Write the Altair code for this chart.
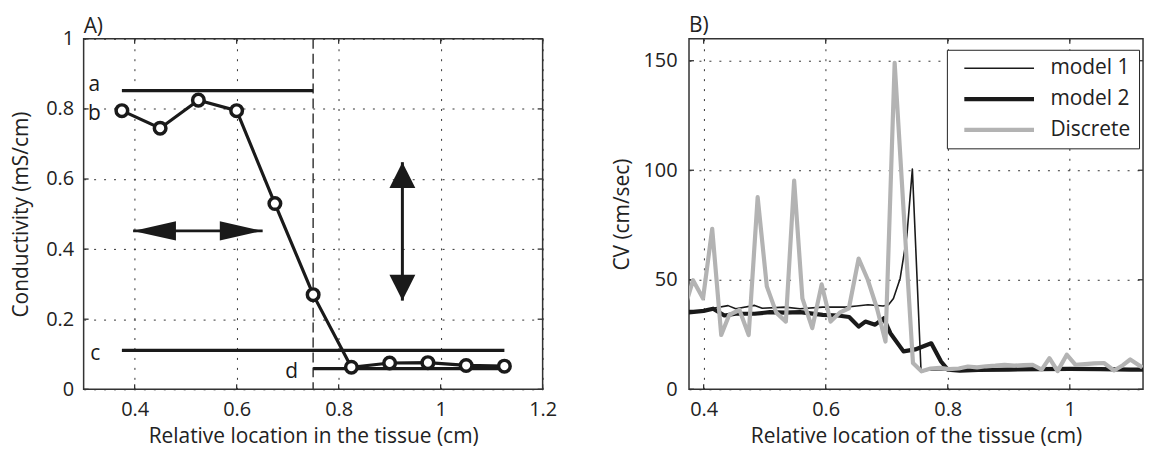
import altair as alt
import pandas as pd

FONT = "Open Sans"
INK = "#1a1a1a"
GRID = "#333333"
TICK_LEN = 5

# ---------------- Panel A data ----------------
a_loc = [0.375, 0.45, 0.525, 0.6, 0.675, 0.75, 0.825, 0.9, 0.975, 1.05, 1.125]
a_cond = [0.795, 0.745, 0.825, 0.795, 0.53, 0.27, 0.063, 0.075, 0.076, 0.068, 0.066]

seg_name = ["a", "c", "d"]
seg_x1 = [0.375, 0.375, 0.75]
seg_x2 = [0.75, 1.125, 1.125]
seg_y = [0.852, 0.111, 0.059]

lab_text = ["a", "b", "c", "d"]
lab_x = [0.321, 0.321, 0.323, 0.708]
lab_y = [0.852, 0.768, 0.085, 0.031]

dash_x = [0.75]

harrow_x1 = [0.397]
harrow_x2 = [0.651]
harrow_y = [0.452]
varrow_x = [0.925]
varrow_y1 = [0.253]
varrow_y2 = [0.648]

a_xticks = [0.4, 0.6, 0.8, 1.0, 1.2]
a_yticks = [0, 0.2, 0.4, 0.6, 0.8, 1.0]

# ---------------- Panel B data ----------------
series_names = ["model 1", "model 2", "Discrete"]
series_colors = [INK, INK, "#b3b3b3"]
series_widths = [1.6, 4.2, 4.2]

m1_x = [0.374, 0.40, 0.4155, 0.44, 0.4526, 0.4836, 0.496, 0.5331, 0.5579, 0.595,
        0.6322, 0.6508, 0.6693, 0.6941, 0.703, 0.711, 0.722, 0.733, 0.742, 0.7563,
        0.7684, 0.80, 0.85, 0.9, 0.95, 1.0, 1.05, 1.1, 1.12]
m1_y = [36, 36, 37, 38.2, 36.8, 38.3, 37, 37.5, 36.8, 37.5,
        37.5, 38, 38.6, 38, 38.6, 41.5, 50.6, 70, 100.5, 7.9,
        8.8, 9, 9.2, 9.3, 9.4, 9.5, 9.3, 9.4, 9.4]

m2_x = [0.374, 0.40, 0.4155, 0.434, 0.4526, 0.4836, 0.5084, 0.5331, 0.5579, 0.595,
        0.6198, 0.6384, 0.654, 0.665, 0.681, 0.695, 0.706, 0.7275, 0.7466, 0.773,
        0.789, 0.80, 0.82, 0.85, 0.9, 0.95, 1.0, 1.05, 1.1, 1.12]
m2_y = [35, 35.8, 36.8, 33.7, 34.5, 34.5, 35.2, 35, 35.2, 34,
        33.7, 33, 28.6, 30.9, 29.5, 32.4, 25.6, 17.3, 18.2, 21,
        12.7, 9, 8.5, 8.8, 9, 9.2, 9.3, 9.2, 9, 9]

d_x = [0.370, 0.3826, 0.399, 0.414, 0.4288, 0.442, 0.4587, 0.4738, 0.4885, 0.5035,
       0.519, 0.5347, 0.5483, 0.5618, 0.578, 0.5934, 0.608, 0.623, 0.638, 0.654,
       0.669, 0.684, 0.698, 0.713, 0.728, 0.743, 0.757, 0.772, 0.787, 0.802,
       0.818, 0.833, 0.848, 0.863, 0.878, 0.893, 0.909, 0.924, 0.939, 0.954,
       0.9666, 0.98, 0.995, 1.0094, 1.025, 1.04, 1.056, 1.0725, 1.087, 1.099, 1.119]
d_y = [38, 49.8, 41.5, 73.3, 24.8, 34, 36.2, 24.8, 87.7, 47,
       35, 30.9, 95.3, 41.5, 27.9, 47.9, 30.9, 35, 37, 59.7,
       50, 37, 21.8, 149, 80, 12, 8.2, 9.5, 9.8, 9.2,
       9.5, 10.4, 10, 10.5, 10.8, 11.2, 10.8, 11, 11.2, 9,
       14.2, 8.3, 15.8, 11.2, 11.5, 11.8, 12, 8.6, 11, 13.6, 10]

b_xticks = [0.4, 0.6, 0.8, 1.0]
b_yticks = [0, 50, 100, 150]

A_W, A_H = 461, 352
B_W, B_H = 456, 352


# ---------------- Panel A ----------------
def xa(field="x"):
    return alt.X(f"{field}:Q",
                 scale=alt.Scale(domain=[0.3, 1.2], nice=False, zero=False),
                 axis=alt.Axis(values=a_xticks, format="~g",
                               title="Relative location in the tissue (cm)",
                               titlePadding=6))


def ya(field="y"):
    return alt.Y(f"{field}:Q",
                 scale=alt.Scale(domain=[0, 1], nice=False, zero=False),
                 axis=alt.Axis(values=a_yticks, format="~g",
                               title="Conductivity (mS/cm)", titlePadding=14))


def xb(field="x"):
    return alt.X(f"{field}:Q",
                 scale=alt.Scale(domain=[0.376, 1.12], nice=False, zero=False),
                 axis=alt.Axis(values=b_xticks, format="~g",
                               title="Relative location of the tissue (cm)",
                               titlePadding=6))


def yb(field="y"):
    return alt.Y(f"{field}:Q",
                 scale=alt.Scale(domain=[0, 160], nice=False, zero=False),
                 axis=alt.Axis(values=b_yticks, format="d", title="CV (cm/sec)",
                               titlePadding=10, labelPadding=12))


def inner_ticks(xticks, yticks, xenc, yenc, w, h):
    xt = pd.DataFrame({"v": xticks})
    yt = pd.DataFrame({"v": yticks})
    base = dict(color="#333333", strokeWidth=1.3)
    return [
        alt.Chart(xt).mark_rule(**base).encode(x=xenc("v"), y=alt.value(h),
                                               y2=alt.value(h - TICK_LEN)),
        alt.Chart(xt).mark_rule(**base).encode(x=xenc("v"), y=alt.value(0),
                                               y2=alt.value(TICK_LEN)),
        alt.Chart(yt).mark_rule(**base).encode(y=yenc("v"), x=alt.value(0),
                                               x2=alt.value(TICK_LEN)),
        alt.Chart(yt).mark_rule(**base).encode(y=yenc("v"), x=alt.value(w),
                                               x2=alt.value(w - TICK_LEN)),
    ]


pts = pd.DataFrame({"x": a_loc, "y": a_cond})
segs = pd.DataFrame({"name": seg_name, "x": seg_x1, "x2": seg_x2, "y": seg_y})
labs = pd.DataFrame({"t": lab_text, "x": lab_x, "y": lab_y})
dash = pd.DataFrame({"x": dash_x})
harr = pd.DataFrame({"x": harrow_x1, "x2": harrow_x2, "y": harrow_y})
varr = pd.DataFrame({"x": varrow_x, "y": varrow_y1, "y2": varrow_y2})
head_l = pd.DataFrame({"x": harrow_x1, "y": harrow_y})
head_r = pd.DataFrame({"x": harrow_x2, "y": harrow_y})
head_u = pd.DataFrame({"x": varrow_x, "y": varrow_y2})
head_d = pd.DataFrame({"x": varrow_x, "y": varrow_y1})

L_SHAPE = "M0,0L2,-0.45L2,0.45Z"
R_SHAPE = "M0,0L-2,-0.45L-2,0.45Z"
U_SHAPE = "M0,0L-1,2L1,2Z"
D_SHAPE = "M0,0L-1,-2L1,-2Z"

dash_layer = alt.Chart(dash).mark_rule(color="#3a3a3a", strokeWidth=1.5,
                                       strokeDash=[10, 5]).encode(x=xa("x"))
seg_layer = alt.Chart(segs).mark_rule(color=INK, strokeWidth=3.2).encode(
    x=xa("x"), x2="x2:Q", y=ya("y"))
line_layer = alt.Chart(pts).mark_line(color=INK, strokeWidth=3.2).encode(
    x=xa("x"), y=ya("y"))
pt_layer = alt.Chart(pts).mark_point(shape="circle", size=135, fill="white",
                                     fillOpacity=1, stroke=INK, strokeWidth=3.5,
                                     opacity=1).encode(x=xa("x"), y=ya("y"))
lab_layer = alt.Chart(labs).mark_text(font=FONT, fontSize=21, baseline="alphabetic",
                                      align="center", color=INK).encode(
    x=xa("x"), y=ya("y"), text="t:N")
harr_layer = alt.Chart(harr).mark_rule(color=INK, strokeWidth=3).encode(
    x=xa("x"), x2="x2:Q", y=ya("y"))
varr_layer = alt.Chart(varr).mark_rule(color=INK, strokeWidth=3).encode(
    x=xa("x"), y=ya("y"), y2="y2:Q")


def head(df, shape, size):
    return alt.Chart(df).mark_point(shape=shape, size=size, filled=True, color=INK,
                                    opacity=1, strokeWidth=0).encode(x=xa("x"), y=ya("y"))


panelA = alt.layer(
    *inner_ticks(a_xticks, a_yticks, xa, ya, A_W, A_H),
    dash_layer, seg_layer, line_layer, pt_layer, lab_layer,
    harr_layer, varr_layer,
    head(head_l, L_SHAPE, 1849), head(head_r, R_SHAPE, 1849),
    head(head_u, U_SHAPE, 676), head(head_d, D_SHAPE, 676),
).properties(width=A_W, height=A_H,
             title=alt.TitleParams("A)", anchor="start", frame="group", offset=-8))

# ---------------- Panel B ----------------
rows = []
for name, xs, ys in [("model 1", m1_x, m1_y), ("model 2", m2_x, m2_y), ("Discrete", d_x, d_y)]:
    for xv, yv in zip(xs, ys):
        rows.append({"series": name, "x": xv, "y": yv})
bdf = pd.DataFrame(rows)

leg = alt.Legend(title=None, orient="none", legendX=259, legendY=11,
                 strokeColor="#222222", fillColor="white", padding=8, cornerRadius=0,
                 symbolType="stroke", symbolSize=4900, clipHeight=21, rowPadding=9,
                 labelFont=FONT, labelFontSize=21, labelColor="#222222",
                 labelOffset=14, symbolOffset=7, labelExpr="datum.label + '   '")

lines_b = alt.Chart(bdf).mark_line(clip=True, strokeJoin="round").encode(
    x=xb("x"),
    y=yb("y"),
    color=alt.Color("series:N", scale=alt.Scale(domain=series_names, range=series_colors),
                    legend=leg),
    strokeWidth=alt.StrokeWidth("series:N",
                                scale=alt.Scale(type="ordinal", domain=series_names,
                                                range=series_widths),
                                legend=leg),
)

panelB = alt.layer(
    *inner_ticks(b_xticks, b_yticks, xb, yb, B_W, B_H),
    lines_b,
).properties(width=B_W, height=B_H,
             title=alt.TitleParams("B)", anchor="start", frame="group", offset=2))

chart = alt.hconcat(panelA, panelB, spacing=53).resolve_scale(
    color="independent", strokeWidth="independent"
).resolve_legend(
    color="independent", strokeWidth="independent"
).properties(
    padding={"left": 10, "top": 13, "right": 5, "bottom": 6}
).configure_view(
    stroke="#333333", strokeWidth=1.5
).configure_axis(
    grid=True, gridDash=[2, 8], gridColor=GRID, gridWidth=1, gridOpacity=1,
    domain=False, ticks=False, tickSize=0,
    labelFont=FONT, labelFontSize=20, labelColor="#222222", labelPadding=10,
    labelFlush=False, labelOverlap=False,
    titleFont=FONT, titleFontSize=21, titleFontWeight="normal", titleColor="#222222",
).configure_title(
    font=FONT, fontSize=21, fontWeight="normal", color="#222222", anchor="start"
)

chart.save("out.html", embed_options={"renderer": "svg", "actions": False})
